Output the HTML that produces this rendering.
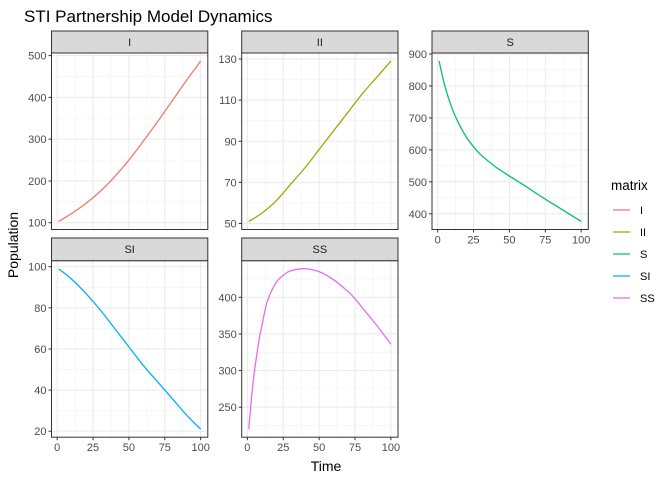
<!DOCTYPE html>
<html><head><meta charset="utf-8"><style>
body{margin:0;background:#fff;}
svg{display:block;font-family:"Liberation Sans",Arial,sans-serif;}
</style></head><body>
<svg id="chart" width="672" height="480" viewBox="0 0 672 480">
<text x="24" y="22" font-size="17" fill="#000">STI Partnership Model Dynamics</text>
<text transform="translate(18,245) rotate(-90)" text-anchor="middle" font-size="14">Population</text>
<text x="326" y="471" text-anchor="middle" font-size="14">Time</text>
<g id="panels"></g>
<g id="legend"></g>
</svg>
<script>
const seriesNames = ["I","II","S","SI","SS"];
const colors = ["#F8766D","#A3A500","#00BF7D","#00B0F6","#E76BF3"];
const tI = [1,10,20,30,40,50,60,70,80,90,100];
const vI = [103,122,146,175,210,250,295,342,391,440,487];
const tII = [1,10,20,30,40,50,60,70,80,90,100];
const vII = [51,55,61,69,77,86,95,104,113,121,129];
const tS = [1,5,10,15,20,25,30,40,50,60,70,80,90,100];
const vS = [878,800,730,680,640,610,585,548,518,490,460,432,404,376];
const tSI = [1,10,20,30,40,50,60,70,80,90,100];
const vSI = [99,94,87,79,70,61,52,44,36,28,21];
const tSS = [1,3,5,8,10,14,20,25,30,40,50,60,70,75,80,90,100];
const vSS = [220,265,300,340,360,395,420,430,436,439,435,424,408,398,386,362,336];
const yTicksI = [100,200,300,400,500];
const yTicksII = [50,70,90,110,130];
const yTicksS = [400,500,600,700,800,900];
const yTicksSI = [20,40,60,80,100];
const yTicksSS = [250,300,350,400];
const xTicks = [0,25,50,75,100];

const NS="http://www.w3.org/2000/svg";
const g=document.getElementById('panels');
function mk(tag,attrs,parent){const e=document.createElementNS(NS,tag);for(const k in attrs)e.setAttribute(k,attrs[k]);(parent||g).appendChild(e);return e;}
function smooth(pts){
  let d='M'+pts[0][0].toFixed(2)+','+pts[0][1].toFixed(2);
  for(let i=0;i<pts.length-1;i++){
    const p0=pts[Math.max(0,i-1)],p1=pts[i],p2=pts[i+1],p3=pts[Math.min(pts.length-1,i+2)];
    const c1=[p1[0]+(p2[0]-p0[0])/6,p1[1]+(p2[1]-p0[1])/6];
    const c2=[p2[0]-(p3[0]-p1[0])/6,p2[1]-(p3[1]-p1[1])/6];
    d+='C'+c1[0].toFixed(2)+','+c1[1].toFixed(2)+' '+c2[0].toFixed(2)+','+c2[1].toFixed(2)+' '+p2[0].toFixed(2)+','+p2[1].toFixed(2);
  }
  return d;
}
const panels=[
 {name:"I",t:tI,v:vI,yt:yTicksI,x:51.5,y:53,strip:31,showX:false},
 {name:"II",t:tII,v:vII,yt:yTicksII,x:241.7,y:53,strip:31,showX:false},
 {name:"S",t:tS,v:vS,yt:yTicksS,x:432,y:53,strip:31,showX:true},
 {name:"SI",t:tSI,v:vSI,yt:yTicksSI,x:51.5,y:260.7,strip:238,showX:true},
 {name:"SS",t:tSS,v:vSS,yt:yTicksSS,x:241.7,y:260.7,strip:238,showX:true}
];
const W=156.3,H=176.5;
panels.forEach((p,i)=>{
  const tmin=Math.min(...p.t),tmax=Math.max(...p.t);
  const xpad=(tmax-tmin)*0.05;
  const xs=t=>p.x+(t-(tmin-xpad))/((tmax-tmin)+2*xpad)*W;
  const vmin=Math.min(...p.v),vmax=Math.max(...p.v);
  const ypad=(vmax-vmin)*0.05;
  const ys=v=>p.y+H-(v-(vmin-ypad))/((vmax-vmin)+2*ypad)*H;
  const pg=mk('g',{});
  
  
  mk('rect',{x:p.x,y:p.y,width:W,height:H,fill:'#fff'},pg);
  for(let k=0;k<xTicks.length-1;k++){const m=(xTicks[k]+xTicks[k+1])/2;mk('line',{x1:xs(m),x2:xs(m),y1:p.y,y2:p.y+H,stroke:'#f2f2f2','stroke-width':0.6},pg);}
  for(let k=0;k<p.yt.length-1;k++){const m=(p.yt[k]+p.yt[k+1])/2;const yy=ys(m);if(yy>p.y&&yy<p.y+H)mk('line',{x1:p.x,x2:p.x+W,y1:yy,y2:yy,stroke:'#f2f2f2','stroke-width':0.6},pg);}
  const step=p.yt[1]-p.yt[0];
  [p.yt[0]-step/2,p.yt[p.yt.length-1]+step/2].forEach(m=>{const yy=ys(m);if(yy>p.y&&yy<p.y+H)mk('line',{x1:p.x,x2:p.x+W,y1:yy,y2:yy,stroke:'#f2f2f2','stroke-width':0.6},pg);});
  xTicks.forEach(t=>mk('line',{x1:xs(t),x2:xs(t),y1:p.y,y2:p.y+H,stroke:'#ebebeb','stroke-width':1.1},pg));
  p.yt.forEach(v=>{const yy=ys(v);mk('line',{x1:p.x,x2:p.x+W,y1:yy,y2:yy,stroke:'#ebebeb','stroke-width':1.1},pg);
    mk('line',{x1:p.x-3,x2:p.x,y1:yy,y2:yy,stroke:'#333','stroke-width':1},pg);
    const tx=mk('text',{x:p.x-5,y:yy+4,'text-anchor':'end','font-size':11,fill:'#4d4d4d'},pg);tx.textContent=v;});
  if(p.showX){xTicks.forEach(t=>{mk('line',{x1:xs(t),x2:xs(t),y1:p.y+H,y2:p.y+H+3,stroke:'#333','stroke-width':1},pg);
    const tx=mk('text',{x:xs(t),y:p.y+H+14,'text-anchor':'middle','font-size':11,fill:'#4d4d4d'},pg);tx.textContent=t;});}
  const pts=p.t.map((t,k)=>[xs(t),ys(p.v[k])]);
  const path=mk('path',{d:smooth(pts),fill:'none',stroke:colors[i],'stroke-width':1.3},pg);
  
  
  mk('rect',{x:p.x,y:p.y,width:W,height:H,fill:'none',stroke:'#333','stroke-width':1},pg);
  const st=mk('rect',{x:p.x,y:p.strip,width:W,height:p.y-p.strip,fill:'#d9d9d9',stroke:'#333','stroke-width':1},pg);
  
  
  const sl=mk('text',{x:p.x+W/2,y:p.strip+15,'text-anchor':'middle','font-size':11,fill:'#1a1a1a'},pg);sl.textContent=p.name;
});
const lg=document.getElementById('legend');


mk('text',{x:611,y:190,'font-size':13.5,fill:'#000'},lg).textContent='matrix';
seriesNames.forEach((n,i)=>{
  const y=210+i*22;
  const e=mk('g',{},lg);
  
  
  mk('line',{x1:613,x2:630,y1:y,y2:y,stroke:colors[i],'stroke-width':1.3},e);
  mk('text',{x:640,y:y+4,'font-size':11,fill:'#000'},e).textContent=n;
});
</script>
</body></html>
